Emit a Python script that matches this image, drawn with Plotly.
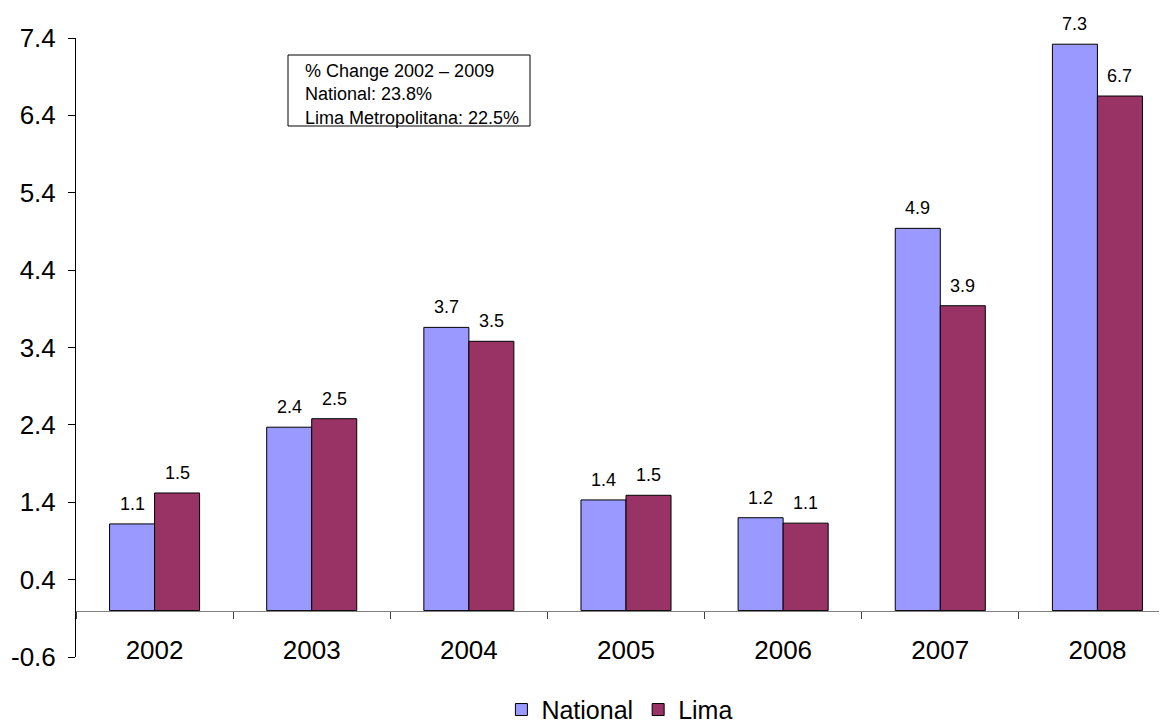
import plotly.graph_objects as go

years = ["2002", "2003", "2004", "2005", "2006", "2007", "2008"]
national = [1.12, 2.37, 3.66, 1.43, 1.20, 4.94, 7.32]
lima = [1.52, 2.48, 3.48, 1.49, 1.13, 3.94, 6.65]
y_ticks = [-0.6, 0.4, 1.4, 2.4, 3.4, 4.4, 5.4, 6.4, 7.4]
note_lines = ["% Change 2002 – 2009", "National: 23.8%", "Lima Metropolitana: 22.5%"]

FONT = "Arial, Liberation Sans, sans-serif"
y_min, y_max = y_ticks[0], y_ticks[-1]

W, H = 1170, 722
ML, MR, MT, MB = 68, 2, 30, 73
BARGAP = 0.427
plot_w = W - ML - MR
half_bar = plot_w / len(years) * (1 - BARGAP) / 4  # offset from category centre to each bar centre


def px_x(px):
    """screen pixel (page has 8px body margin) -> paper fraction"""
    return (px - 8 - ML) / plot_w


def px_y(py):
    plot_h = H - MT - MB
    return 1 - (py - 8 - MT) / plot_h


fig = go.Figure()
fig.add_trace(go.Bar(
    x=years, y=national, name="National",
    marker=dict(color="#9999FF", line=dict(color="black", width=1)),
))
fig.add_trace(go.Bar(
    x=years, y=lima, name="Lima",
    marker=dict(color="#993366", line=dict(color="black", width=1)),
))

annotations = []
for series, shift in ((national, -half_bar), (lima, half_bar)):
    for i, v in enumerate(series):
        annotations.append(dict(
            x=i, y=v, xref="x", yref="y", text=f"{v:.1f}", showarrow=False,
            xanchor="center", yanchor="middle", xshift=shift, yshift=20,
            font=dict(size=18, color="black", family=FONT),
        ))

# note box text
annotations.append(dict(
    xref="paper", yref="paper", x=px_x(303), y=px_y(94.5), xanchor="left", yanchor="middle",
    text="<br>".join(note_lines), showarrow=False, align="left",
    font=dict(size=18, color="black", family=FONT),
))

fig.update_layout(
    width=W, height=H,
    paper_bgcolor="white", plot_bgcolor="white",
    font=dict(family=FONT, color="black", size=26),
    margin=dict(l=ML, r=MR, t=MT, b=MB, autoexpand=False),
    barmode="group", bargap=BARGAP, bargroupgap=0,
    showlegend=True,
    legend=dict(orientation="h", xref="container", x=0.523, xanchor="center",
                yref="container", y=0.028, yanchor="middle",
                font=dict(size=25), itemwidth=30, tracegroupgap=0,
                bgcolor="rgba(0,0,0,0)"),
    xaxis=dict(
        type="category", categoryorder="array", categoryarray=years,
        range=[-0.5, len(years) - 0.5],
        anchor="free", position=(0 - y_min) / (y_max - y_min),
        showline=True, linecolor="#808080", linewidth=1,
        ticks="outside", tickson="boundaries", ticklen=7, tickcolor="#404040",
        ticklabelstandoff=16, tickfont=dict(size=26), tickangle=0,
        showgrid=False, zeroline=False, automargin=False,
    ),
    yaxis=dict(
        range=[y_min, y_max], tickvals=y_ticks, ticktext=[f"{v:.1f}" for v in y_ticks],
        showline=True, linecolor="black", linewidth=1,
        ticks="outside", ticklen=7, tickcolor="black", ticklabelstandoff=7,
        showgrid=False, zeroline=False, tickfont=dict(size=26), automargin=False,
    ),
    shapes=[dict(
        type="rect", xref="paper", yref="paper",
        x0=px_x(288), x1=px_x(530), y0=px_y(126), y1=px_y(55),
        line=dict(color="black", width=1), fillcolor="white", layer="above",
    )],
    annotations=annotations,
)

fig.write_html("out.html")
